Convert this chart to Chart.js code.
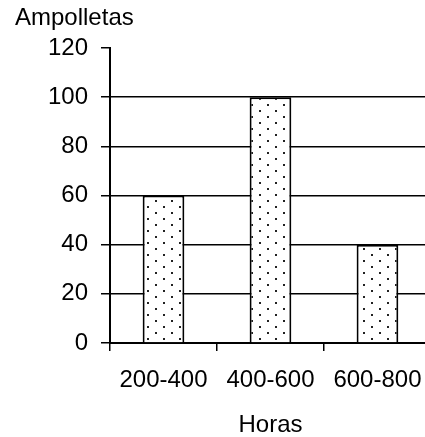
<!DOCTYPE html>
<html>
<head>
<meta charset="utf-8">
<script src="https://cdn.jsdelivr.net/npm/chart.js@4.4.1/dist/chart.umd.min.js"></script>
<style>
  html, body { margin: 0; padding: 0; background: #fff; overflow: hidden; width: 425px; height: 437px; }
</style>
</head>
<body>
<canvas id="myChart" width="440" height="437"></canvas>
<script>
// Datos del gráfico
var categorias = ['200-400', '400-600', '600-800'];
var ampolletas = [60, 100, 40];
var ejeY = [0, 20, 40, 60, 80, 100, 120];

// Trama de puntos para las barras
function trama() {
    var c = document.createElement('canvas');
    c.width = 16;
    c.height = 12;
    var g = c.getContext('2d');
    g.fillStyle = '#fff';
    g.fillRect(0, 0, 16, 12);
    g.fillStyle = '#222';
    g.fillRect(3, 2, 2, 2);
    g.fillRect(11, 8, 2, 2);
    return g.createPattern(c, 'repeat');
}

var fuente = { family: 'Arial, "Liberation Sans", sans-serif', size: 24, lineHeight: 1, weight: 'normal' };

var ctx = document.getElementById('myChart').getContext('2d');
var myChart = new Chart(ctx, {
    type: 'bar',
    data: {
        labels: categorias,
        datasets: [{
            label: 'Ampolletas',
            data: ampolletas,
            backgroundColor: trama(),
            borderColor: '#000',
            borderWidth: 2,
            categoryPercentage: 1,
            barPercentage: 0.39
        }]
    },
    options: {
        responsive: false,
        animation: false,
        layout: { padding: { left: 15, right: 6, top: 0, bottom: 0 } },
        plugins: {
            legend: { display: false },
            tooltip: { enabled: false },
            title: {
                display: true,
                text: 'Ampolletas',
                align: 'start',
                color: '#000',
                font: fuente,
                padding: { top: 6, bottom: 18 }
            }
        },
        scales: {
            y: {
                min: 0,
                max: 120,
                afterFit: function (s) { s.width = 95; },
                afterBuildTicks: function (s) {
                    s.ticks = ejeY.map(function (v) { return { value: v }; });
                },
                ticks: { color: '#000', font: fuente, padding: 13 },
                grid: {
                    color: function (c) { return c.tick && c.tick.value === 120 ? 'rgba(0,0,0,0)' : '#000'; },
                    tickColor: '#000',
                    lineWidth: 1.5,
                    tickLength: 9
                },
                border: { color: '#000', width: 2 }
            },
            x: {
                ticks: { color: '#000', font: fuente, padding: 17.5, maxRotation: 0 },
                grid: {
                    drawOnChartArea: false,
                    color: '#000',
                    lineWidth: 1.5,
                    tickLength: 8
                },
                border: { color: '#000', width: 2 },
                title: {
                    display: true,
                    text: 'Horas',
                    color: '#000',
                    font: fuente,
                    padding: { top: 3, bottom: 0 }
                }
            }
        }
    }
});
</script>
</body>
</html>
